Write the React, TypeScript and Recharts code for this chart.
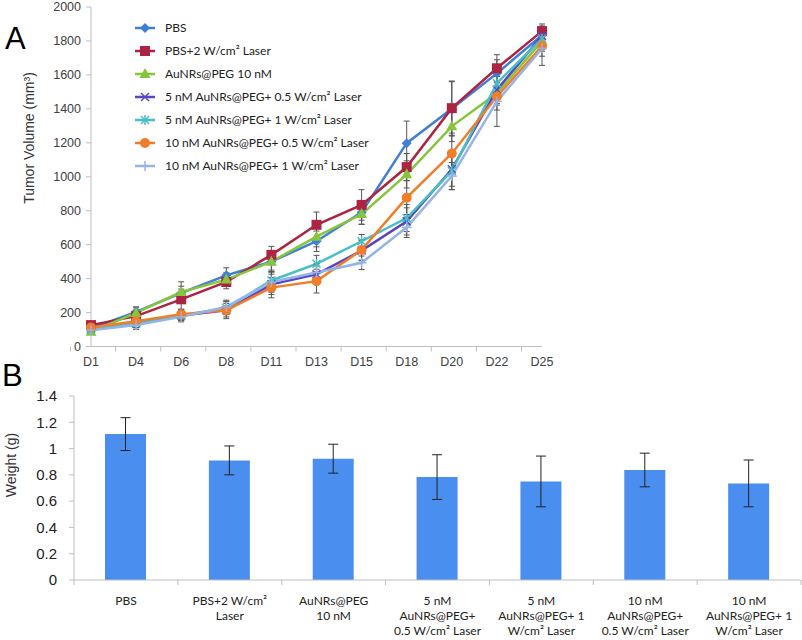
import React from "react"
import { LineChart, Line, XAxis, YAxis, ErrorBar, Legend, BarChart, Bar } from "recharts"

// ---- panel A: tumour volume (mm³) ----
const days = ["D1", "D4", "D6", "D8", "D11", "D13", "D15", "D18", "D20", "D22", "D25"]
const pbs = [106, 204, 315, 419, 500, 620, 790, 1198, 1400, 1609, 1834]
const pbsLaser = [126, 179, 278, 380, 540, 717, 834, 1057, 1404, 1639, 1858]
const peg10 = [87, 198, 321, 394, 500, 647, 780, 1014, 1297, 1492, 1799]
const n5Half = [106, 136, 183, 214, 366, 425, 565, 737, 1044, 1512, 1830]
const n5One = [101, 136, 183, 227, 389, 487, 620, 757, 1034, 1551, 1814]
const n10Half = [112, 149, 190, 214, 347, 385, 569, 877, 1137, 1473, 1770]
const n10One = [96, 126, 175, 233, 380, 436, 493, 702, 1004, 1444, 1756]

const pbsErr = [15, 30, 40, 45, 50, 60, 70, 130, 160, 80, 50]
const pbsLaserErr = [15, 30, 60, 40, 50, 75, 90, 80, 160, 80, 30]
const peg10Err = [15, 30, 60, 40, 60, 60, 60, 80, 90, 70, 60]
const n5HalfErr = [15, 25, 30, 40, 60, 50, 60, 80, 100, 80, 70]
const n5OneErr = [15, 25, 30, 40, 50, 50, 40, 80, 110, 90, 60]
const n10HalfErr = [15, 25, 30, 50, 60, 70, 60, 100, 120, 80, 60]
const n10OneErr = [15, 25, 30, 40, 60, 50, 40, 60, 80, 147, 100]

const tumorTicks = [0, 200, 400, 600, 800, 1000, 1200, 1400, 1600, 1800, 2000]

// ---- panel B: tumour weight (g) ----
const groups = [
  ["PBS"],
  ["PBS+2 W/cm²", "Laser"],
  ["AuNRs@PEG", "10 nM"],
  ["5 nM", "AuNRs@PEG+", "0.5 W/cm² Laser"],
  ["5 nM", "AuNRs@PEG+ 1", "W/cm² Laser"],
  ["10 nM", "AuNRs@PEG+", "0.5 W/cm² Laser"],
  ["10 nM", "AuNRs@PEG+ 1", "W/cm² Laser"],
]
const weights = [1.11, 0.91, 0.923, 0.783, 0.75, 0.837, 0.735]
const weightErr = [0.125, 0.11, 0.11, 0.17, 0.193, 0.128, 0.178]
const weightTicks = [0, 0.2, 0.4, 0.6, 0.8, 1, 1.2, 1.4]

type Shape = "diamond" | "square" | "triangle" | "x" | "star" | "circle" | "plus"

const series: { key: string; name: string; color: string; shape: Shape; values: number[]; errors: number[] }[] = [
  { key: "pbs", name: "PBS", color: "#3f7fd8", shape: "diamond", values: pbs, errors: pbsErr },
  { key: "pbsLaser", name: "PBS+2 W/cm² Laser", color: "#ac2441", shape: "square", values: pbsLaser, errors: pbsLaserErr },
  { key: "peg10", name: "AuNRs@PEG 10 nM", color: "#86c53c", shape: "triangle", values: peg10, errors: peg10Err },
  { key: "n5Half", name: "5 nM AuNRs@PEG+ 0.5 W/cm² Laser", color: "#5b44c2", shape: "x", values: n5Half, errors: n5HalfErr },
  { key: "n5One", name: "5 nM AuNRs@PEG+ 1 W/cm² Laser", color: "#47bfc6", shape: "star", values: n5One, errors: n5OneErr },
  { key: "n10Half", name: "10 nM AuNRs@PEG+ 0.5 W/cm² Laser", color: "#f07e29", shape: "circle", values: n10Half, errors: n10HalfErr },
  { key: "n10One", name: "10 nM AuNRs@PEG+ 1 W/cm² Laser", color: "#94b3ea", shape: "plus", values: n10One, errors: n10OneErr },
]

const tumorRows = days.map((day, i) => {
  const row: Record<string, number | string> = { day }
  series.forEach((s) => {
    row[s.key] = s.values[i]
    row[s.key + "Err"] = s.errors[i]
  })
  return row
})

const weightRows = groups.map((g, i) => ({ name: g.join(" "), weight: weights[i], err: weightErr[i] }))

const arial = "'Liberation Sans', Arial, sans-serif"
const calibri = "Lato, 'Open Sans', sans-serif"

function Marker({ shape, color, cx, cy }: { shape: Shape; color: string; cx: number; cy: number }) {
  switch (shape) {
    case "diamond":
      return <polygon points={`${cx},${cy - 5} ${cx + 5},${cy} ${cx},${cy + 5} ${cx - 5},${cy}`} fill={color} />
    case "square":
      return <rect x={cx - 5} y={cy - 5} width={10} height={10} fill={color} />
    case "triangle":
      return <polygon points={`${cx},${cy - 6} ${cx + 5.5},${cy + 4} ${cx - 5.5},${cy + 4}`} fill={color} />
    case "x":
      return (
        <g stroke={color} strokeWidth={1.5}>
          <line x1={cx - 4} y1={cy - 4} x2={cx + 4} y2={cy + 4} />
          <line x1={cx - 4} y1={cy + 4} x2={cx + 4} y2={cy - 4} />
        </g>
      )
    case "star":
      return (
        <g stroke={color} strokeWidth={1.5}>
          <line x1={cx - 4} y1={cy - 4} x2={cx + 4} y2={cy + 4} />
          <line x1={cx - 4} y1={cy + 4} x2={cx + 4} y2={cy - 4} />
          <line x1={cx} y1={cy - 5} x2={cx} y2={cy + 5} />
        </g>
      )
    case "circle":
      return <circle cx={cx} cy={cy} r={5} fill={color} />
    default:
      return (
        <g stroke={color} strokeWidth={1.5}>
          <line x1={cx - 5} y1={cy} x2={cx + 5} y2={cy} />
          <line x1={cx} y1={cy - 5} x2={cx} y2={cy + 5} />
        </g>
      )
  }
}

const makeDot = (shape: Shape, color: string, key: string) => (p: any) => (
  <g key={`${key}-${p.index}`}>
    {p.cx != null && <Marker shape={shape} color={color} cx={p.cx} cy={p.cy} />}
  </g>
)

function TumorLegend() {
  return (
    <div style={{ fontFamily: calibri, fontSize: 12, color: "#222" }}>
      {series.map((s) => (
        <div key={s.key} style={{ height: 23, display: "flex", alignItems: "center" }}>
          <svg width={30} height={14} style={{ flex: "none" }}>
            <line x1={0} y1={7} x2={20} y2={7} stroke={s.color} strokeWidth={2.5} />
            <Marker shape={s.shape} color={s.color} cx={10} cy={7} />
          </svg>
          <span style={{ whiteSpace: "nowrap" }}>{s.name}</span>
        </div>
      ))}
    </div>
  )
}

function DayTick(props: any) {
  const { x, y, payload, index } = props
  const half = 20.5
  return (
    <g>
      <line x1={x - half} x2={x - half} y1={y} y2={y + 5} stroke="#bfbfbf" />
      {index === days.length - 1 && <line x1={x + half} x2={x + half} y1={y} y2={y + 5} stroke="#bfbfbf" />}
      <text x={x} y={y + 15} dy="0.35em" textAnchor="middle" fontSize={12.5} fill="#404040" fontFamily={arial}>
        {payload.value}
      </text>
    </g>
  )
}

function GroupTick(props: any) {
  const { x, y, index } = props
  const half = 103.86 / 2
  const lines = groups[index] || []
  return (
    <g>
      <line x1={x - half} x2={x - half} y1={y} y2={y + 5} stroke="#bfbfbf" />
      {index === groups.length - 1 && <line x1={x + half} x2={x + half} y1={y} y2={y + 5} stroke="#bfbfbf" />}
      {lines.map((l: string, i: number) => (
        <text key={i} x={x} y={y + 21 + i * 15} dy="0.35em" textAnchor="middle" fontSize={12} fill="#222" fontFamily={calibri}>
          {l}
        </text>
      ))}
    </g>
  )
}

export default function App() {
  return (
    <div style={{ position: "absolute", left: 0, top: 0, width: 802, height: 640, background: "#fff" }}>
      <div style={{ position: "absolute", left: 0, top: 0 }}>
        <LineChart width={560} height={375} data={tumorRows} margin={{ top: 7, right: 18, bottom: 4.5, left: 0 }}>
          <XAxis dataKey="day" interval={0} tick={<DayTick />} tickLine={false} tickSize={0} tickMargin={0} height={24} stroke="#bfbfbf" />
          <YAxis
            width={91}
            domain={[0, 2000]}
            ticks={tumorTicks}
            interval={0}
            tick={{ fontSize: 12.5, fill: "#404040", fontFamily: arial }}
            tickSize={5}
            tickMargin={5}
            stroke="#bfbfbf"
          />
          <Legend
            layout="vertical"
            align="center"
            verticalAlign="middle"
            content={<TumorLegend />}
            wrapperStyle={{ left: 135, top: 16, width: 300 }}
          />
          {series.map((s) => (
            <Line
              key={s.key}
              type="linear"
              dataKey={s.key}
              name={s.name}
              stroke={s.color}
              strokeWidth={2.5}
              dot={makeDot(s.shape, s.color, s.key)}
              activeDot={false}
              isAnimationActive={false}
            >
              <ErrorBar dataKey={s.key + "Err"} width={3} stroke="#555" strokeWidth={1} />
            </Line>
          ))}
        </LineChart>
      </div>

      <div style={{ position: "absolute", left: 0, top: 380 }}>
        <BarChart width={802} height={260} data={weightRows} margin={{ top: 16, right: 1, bottom: 4, left: 0 }}>
          <XAxis dataKey="name" interval={0} tick={<GroupTick />} tickLine={false} tickSize={0} tickMargin={0} height={56} stroke="#bfbfbf" />
          <YAxis
            width={74}
            domain={[0, 1.4]}
            ticks={weightTicks}
            interval={0}
            tick={{ fontSize: 15, fill: "#222", fontFamily: arial }}
            tickSize={5}
            tickMargin={12}
            stroke="#bfbfbf"
          />
          <Bar dataKey="weight" fill="#4a8ef0" barSize={41} isAnimationActive={false}>
            <ErrorBar dataKey="err" width={5} stroke="#222" strokeWidth={1} />
          </Bar>
        </BarChart>
      </div>

      <div style={{ position: "absolute", left: 5, top: 21, fontFamily: arial, fontSize: 31, lineHeight: "36px", zIndex: 2 }}>A</div>
      <div
        style={{
          position: "absolute",
          left: 29,
          top: 138,
          transform: "translate(-50%, -50%) rotate(-90deg)",
          whiteSpace: "nowrap",
          fontFamily: arial,
          fontSize: 14,
          color: "#333",
          zIndex: 2,
        }}
      >
        Tumor Volume (mm³)
      </div>
      <div style={{ position: "absolute", left: 2, top: 358, fontFamily: arial, fontSize: 31, lineHeight: "36px", zIndex: 2 }}>B</div>
      <div
        style={{
          position: "absolute",
          left: 11,
          top: 465,
          transform: "translate(-50%, -50%) rotate(-90deg)",
          whiteSpace: "nowrap",
          fontFamily: arial,
          fontSize: 14,
          color: "#333",
          zIndex: 2,
        }}
      >
        Weight (g)
      </div>
    </div>
  )
}
